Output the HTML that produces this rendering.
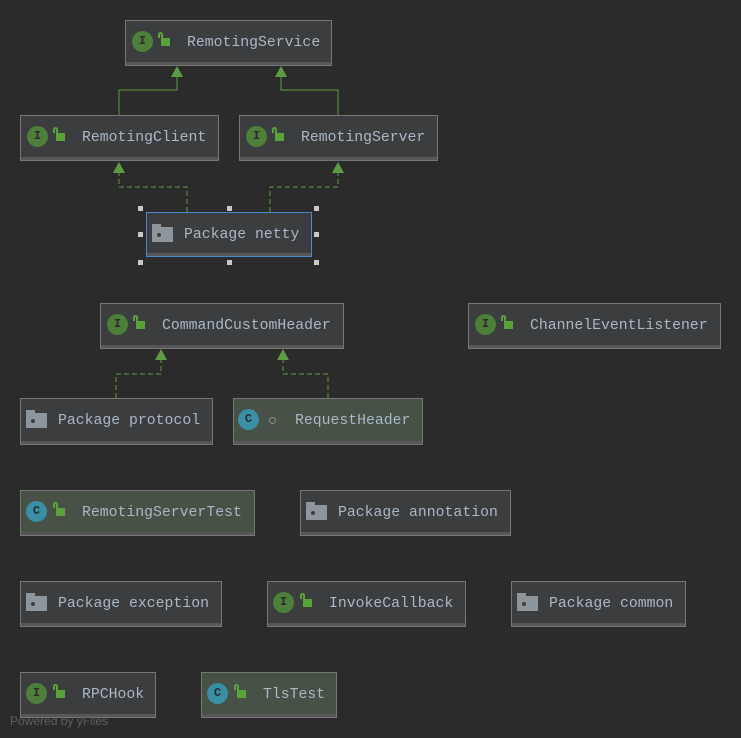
<!DOCTYPE html>
<html><head><meta charset="utf-8"><style>
body{margin:0;width:741px;height:738px;background:#2b2b2b;position:relative;overflow:hidden;font-family:"Liberation Mono",monospace;}
.b{position:absolute;box-sizing:border-box;background:#3c3d3e;border:1px solid #767676;box-shadow:inset 0 -3px 0 #575757;}
.g{background:#475146;}
.t{position:absolute;top:12px;font-size:14.8px;color:#a9b7c6;white-space:nowrap;line-height:20px;}
.ic{position:absolute;top:10px;width:21px;height:21px;border-radius:50%;background:#4d7f3a;color:#2b2b2b;font-size:12px;text-align:center;line-height:21px;font-weight:bold;}
.cc{background:#3a8ea6;}
.lk{position:absolute;top:17px;width:9px;height:8px;background:#59a33a;}
.lk:before{content:"";position:absolute;left:-3px;top:-6px;width:5px;height:6px;border:2px solid #59a33a;border-bottom:none;border-radius:4px 4px 0 0;box-sizing:border-box;}
.f{position:absolute;top:14px;width:21px;height:15px;background:#8c969c;}
.f:before{content:"";position:absolute;left:0;top:-3px;width:9px;height:4px;background:#8c969c;}
.f:after{content:"";position:absolute;left:5px;top:6px;width:4px;height:4px;border-radius:50%;background:#3c3d3e;}
.h{position:absolute;width:5px;height:5px;background:#c8c8c8;}
</style></head><body>
<svg width="741" height="738" style="position:absolute;left:0;top:0">
<g fill="none" stroke="#5c9b44" stroke-width="1">
<path d="M119 115V90H177V76"/><path d="M338 115V90H281V76"/>
<g stroke-dasharray="5,3"><path d="M187 212V187H119V172"/><path d="M270 212V187H338V172"/>
<path d="M116 398V374H161V359"/><path d="M328 398V374H283V359"/></g>
</g>
<g fill="#5c9b44">
<path d="M177 66L171 77H183Z"/><path d="M281 66L275 77H287Z"/>
<path d="M119 162L113 173H125Z"/><path d="M338 162L332 173H344Z"/>
<path d="M161 349L155 360H167Z"/><path d="M283 349L277 360H289Z"/>
</g>
</svg>

<div class="b" style="left:125px;top:20px;width:207px;height:46px"><div class="ic" style="left:6px">I</div><div class="lk" style="left:35px"></div><div class="t" style="left:61px">RemotingService</div></div>
<div class="b" style="left:20px;top:115px;width:199px;height:46px"><div class="ic" style="left:6px">I</div><div class="lk" style="left:35px"></div><div class="t" style="left:61px">RemotingClient</div></div>
<div class="b" style="left:239px;top:115px;width:199px;height:46px"><div class="ic" style="left:6px">I</div><div class="lk" style="left:35px"></div><div class="t" style="left:61px">RemotingServer</div></div>
<div class="b" style="left:146px;top:212px;width:166px;height:45px;border-color:#4a88d0"><div class="f" style="left:5px"></div><div class="t" style="left:37px">Package netty</div></div>
<div class="h" style="left:138px;top:206px"></div><div class="h" style="left:227px;top:206px"></div><div class="h" style="left:314px;top:206px"></div>
<div class="h" style="left:138px;top:232px"></div><div class="h" style="left:314px;top:232px"></div>
<div class="h" style="left:138px;top:260px"></div><div class="h" style="left:227px;top:260px"></div><div class="h" style="left:314px;top:260px"></div>

<div class="b" style="left:100px;top:303px;width:244px;height:46px"><div class="ic" style="left:6px">I</div><div class="lk" style="left:35px"></div><div class="t" style="left:61px">CommandCustomHeader</div></div>
<div class="b" style="left:468px;top:303px;width:253px;height:46px"><div class="ic" style="left:6px">I</div><div class="lk" style="left:35px"></div><div class="t" style="left:61px">ChannelEventListener</div></div>
<div class="b" style="left:20px;top:398px;width:193px;height:47px"><div class="f" style="left:5px"></div><div class="t" style="left:37px">Package protocol</div></div>
<div class="b g" style="left:233px;top:398px;width:190px;height:47px"><div class="ic cc" style="left:4px">C</div><div style="position:absolute;left:35px;top:18px;width:5px;height:5px;border:1.5px solid #8a8a8a;border-radius:50%"></div><div class="t" style="left:61px">RequestHeader</div></div>
<div class="b g" style="left:20px;top:490px;width:235px;height:46px"><div class="ic cc" style="left:5px">C</div><div class="lk" style="left:35px"></div><div class="t" style="left:61px">RemotingServerTest</div></div>
<div class="b" style="left:300px;top:490px;width:211px;height:46px"><div class="f" style="left:5px"></div><div class="t" style="left:37px">Package annotation</div></div>
<div class="b" style="left:20px;top:581px;width:202px;height:46px"><div class="f" style="left:5px"></div><div class="t" style="left:37px">Package exception</div></div>
<div class="b" style="left:267px;top:581px;width:199px;height:46px"><div class="ic" style="left:5px">I</div><div class="lk" style="left:35px"></div><div class="t" style="left:61px">InvokeCallback</div></div>
<div class="b" style="left:511px;top:581px;width:175px;height:46px"><div class="f" style="left:5px"></div><div class="t" style="left:37px">Package common</div></div>
<div class="b" style="left:20px;top:672px;width:136px;height:46px"><div class="ic" style="left:5px">I</div><div class="lk" style="left:35px"></div><div class="t" style="left:61px">RPCHook</div></div>
<div class="b g" style="left:201px;top:672px;width:136px;height:46px"><div class="ic cc" style="left:5px">C</div><div class="lk" style="left:35px"></div><div class="t" style="left:61px">TlsTest</div></div>
<div style="position:absolute;left:10px;top:714px;font-family:'Liberation Sans',sans-serif;font-size:12px;color:#5e5e5e">Powered by yFiles</div>
</body></html>
